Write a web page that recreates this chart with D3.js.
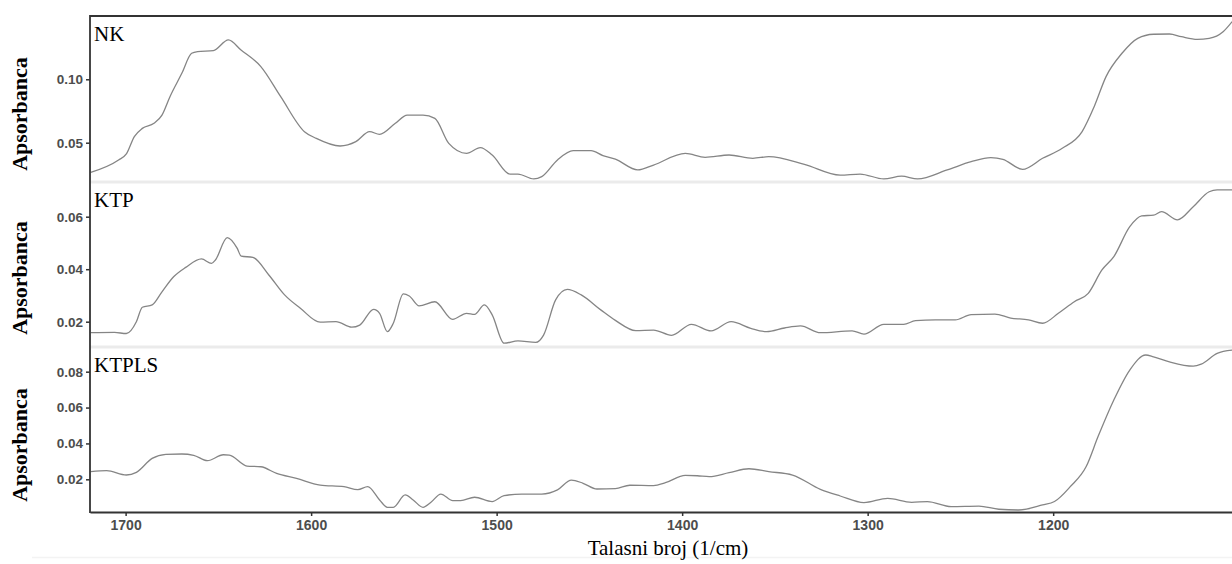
<!DOCTYPE html>
<html>
<head>
<meta charset="utf-8">
<script src="https://cdn.jsdelivr.net/npm/d3@7"></script>
<style>
  html, body { margin: 0; padding: 0; background: #fff; }
  svg { display: block; }
</style>
</head>
<body>
<svg id="chart" width="1232" height="564"></svg>
<script>
// ---- Data ----
const panelNames = ["NK", "KTP", "KTPLS"];
const xTicks = [1700, 1600, 1500, 1400, 1300, 1200];
const nkTicks = [0.05, 0.10];
const ktpTicks = [0.02, 0.04, 0.06];
const ktplsTicks = [0.02, 0.04, 0.06, 0.08];

const nkWave = [1718.8,1703.8,1699.6,1695.3,1691.0,1684.7,1680.4,1676.1,1669.7,1664.4,1661.2,1652.7,1644.6,1637.8,1627.1,1616.4,1603.6,1597.2,1584.4,1575.9,1568.5,1563.1,1554.6,1548.2,1539.7,1533.3,1525.8,1516.2,1508.8,1502.4,1492.8,1488.5,1480.0,1475.7,1467.2,1458.7,1449.1,1442.7,1436.0,1423.9,1415.4,1398.3,1387.6,1374.7,1361.9,1353.3,1334.1,1314.8,1304.1,1291.3,1281.7,1273.1,1257.1,1244.2,1233.6,1227.1,1216.5,1205.7,1195.1,1184.4,1177.9,1171.5,1162.9,1154.4,1145.9,1137.3,1130.9,1122.3,1115.9,1108.4,1103.5];
const nkAbs  = [0.0266,0.0364,0.0411,0.0548,0.0613,0.0653,0.0718,0.0863,0.1047,0.1205,0.1218,0.1226,0.1310,0.1231,0.1100,0.0863,0.0587,0.0534,0.0474,0.0508,0.0587,0.0566,0.0653,0.0718,0.0718,0.0692,0.0495,0.0416,0.0461,0.0403,0.0253,0.0253,0.0214,0.0232,0.0364,0.0437,0.0437,0.0398,0.0370,0.0285,0.0324,0.0416,0.0385,0.0403,0.0377,0.0390,0.0330,0.0245,0.0253,0.0214,0.0237,0.0214,0.0285,0.0350,0.0382,0.0369,0.0290,0.0377,0.0456,0.0587,0.0784,0.1021,0.1205,0.1323,0.1355,0.1357,0.1336,0.1315,0.1323,0.1375,0.1455];

const ktpWave = [1718.8,1706.0,1699.6,1694.2,1691.0,1685.7,1680.4,1674.0,1667.6,1659.1,1653.7,1651.6,1645.2,1639.9,1637.7,1631.4,1622.8,1614.3,1605.8,1595.1,1586.6,1578.1,1573.8,1566.3,1563.1,1558.9,1555.7,1550.3,1547.1,1541.8,1533.3,1523.7,1516.2,1511.9,1506.6,1502.4,1496.0,1488.5,1478.9,1474.7,1468.2,1461.9,1454.4,1443.7,1436.0,1425.0,1415.4,1405.7,1395.0,1384.4,1373.6,1363.0,1354.4,1344.8,1336.2,1325.5,1308.4,1302.0,1291.3,1280.6,1274.2,1263.5,1252.8,1244.2,1231.4,1222.9,1213.3,1205.7,1197.2,1188.6,1181.1,1173.7,1167.3,1158.7,1152.3,1145.9,1141.6,1133.0,1124.5,1115.9,1111.6,1103.5];
const ktpAbs  = [0.0158,0.0159,0.0155,0.0200,0.0255,0.0264,0.0314,0.0372,0.0407,0.0439,0.0422,0.0435,0.0520,0.0480,0.0450,0.0445,0.0378,0.0302,0.0251,0.0198,0.0200,0.0179,0.0187,0.0247,0.0232,0.0162,0.0194,0.0306,0.0298,0.0260,0.0276,0.0209,0.0232,0.0228,0.0264,0.0226,0.0118,0.0127,0.0121,0.0149,0.0283,0.0323,0.0302,0.0244,0.0205,0.0166,0.0168,0.0148,0.0190,0.0165,0.0200,0.0175,0.0162,0.0176,0.0184,0.0158,0.0165,0.0153,0.0190,0.0190,0.0204,0.0207,0.0207,0.0227,0.0229,0.0214,0.0207,0.0194,0.0232,0.0276,0.0308,0.0397,0.0448,0.0562,0.0603,0.0606,0.0619,0.0588,0.0638,0.0695,0.0702,0.0702];

const ktplsWave = [1718.8,1710.2,1699.6,1694.2,1685.7,1678.3,1669.7,1663.3,1655.9,1647.3,1644.1,1634.6,1627.1,1618.6,1607.9,1595.1,1582.3,1574.8,1569.5,1563.1,1558.9,1555.7,1549.3,1545.0,1539.7,1535.4,1530.1,1523.7,1519.4,1511.9,1502.4,1496.0,1486.4,1475.7,1467.2,1459.7,1453.4,1445.9,1436.0,1428.2,1415.4,1409.0,1398.3,1391.8,1385.4,1374.7,1364.0,1353.3,1340.5,1325.5,1314.8,1302.0,1289.2,1276.3,1267.8,1255.0,1240.0,1229.3,1218.6,1205.7,1199.3,1190.8,1182.2,1175.8,1167.3,1158.7,1150.1,1145.9,1137.3,1124.5,1120.2,1111.6,1103.5];
const ktplsAbs  = [0.0243,0.0248,0.0224,0.0239,0.0317,0.0339,0.0341,0.0334,0.0304,0.0337,0.0335,0.0274,0.0270,0.0233,0.0205,0.0168,0.0159,0.0142,0.0159,0.0085,0.0044,0.0044,0.0113,0.0085,0.0044,0.0072,0.0118,0.0081,0.0081,0.0100,0.0076,0.0109,0.0118,0.0118,0.0141,0.0196,0.0178,0.0146,0.0148,0.0167,0.0165,0.0181,0.0222,0.0220,0.0215,0.0237,0.0259,0.0243,0.0224,0.0144,0.0107,0.0070,0.0094,0.0072,0.0076,0.0048,0.0051,0.0033,0.0029,0.0057,0.0076,0.0159,0.0271,0.0438,0.0642,0.0809,0.0893,0.0883,0.0855,0.0831,0.0842,0.0902,0.0920];

// ---- Layout ----
const svg = d3.select("#chart");
const left = 90, right = 1232;
const panels = [
  { name: panelNames[0], top: 16,  bottom: 181, domain: [0.0198, 0.1499], ticks: nkTicks,    wave: nkWave,    abs: nkAbs,    fmt: ".2f", titleY: 114, labelY: 41 },
  { name: panelNames[1], top: 183, bottom: 346, domain: [0.01074, 0.07284], ticks: ktpTicks,  wave: ktpWave,   abs: ktpAbs,   fmt: ".2f", titleY: 278, labelY: 207 },
  { name: panelNames[2], top: 348, bottom: 512, domain: [0.00178, 0.0932], ticks: ktplsTicks, wave: ktplsWave, abs: ktplsAbs, fmt: ".2f", titleY: 445, labelY: 372 }
];

const x = d3.scaleLinear().domain([1719.2, 1103.6]).range([left, right]);

const serif = "'Liberation Serif', 'Times New Roman', serif";
const sans = "'Liberation Sans', Arial, sans-serif";

// faint frame line near the bottom of the figure
svg.append("line").attr("x1", 32).attr("x2", right).attr("y1", 557.5).attr("y2", 557.5)
  .attr("stroke", "#f3f3f3").attr("stroke-width", 1.5);

panels.forEach((p, i) => {
  const y = d3.scaleLinear().domain(p.domain).range([p.bottom, p.top]);

  svg.append("clipPath").attr("id", "clip" + i)
    .append("rect").attr("x", left).attr("y", p.top).attr("width", right - left).attr("height", p.bottom - p.top);

  const data = p.wave.map((w, k) => ({ w, a: p.abs[k] }));
  const line = d3.line().x(d => x(d.w)).y(d => y(d.a)).curve(d3.curveMonotoneX);
  svg.append("path").datum(data)
    .attr("clip-path", `url(#clip${i})`)
    .attr("d", line)
    .attr("fill", "none")
    .attr("stroke", "#858585")
    .attr("stroke-width", 1.3);

  const ax = svg.append("g").attr("transform", `translate(${left},0)`)
    .call(d3.axisLeft(y).tickValues(p.ticks).tickFormat(d3.format(p.fmt)).tickSize(4).tickPadding(3));
  ax.select(".domain").remove();
  ax.selectAll(".tick line").attr("stroke", "#333").attr("stroke-width", 1.5);
  ax.selectAll(".tick text")
    .attr("fill", "#4d4d4d").attr("font-family", sans).attr("font-weight", "bold").attr("font-size", 13.5);

  svg.append("text")
    .attr("transform", `translate(27,${p.titleY}) rotate(-90)`)
    .attr("text-anchor", "middle")
    .attr("font-family", serif).attr("font-weight", "bold").attr("font-size", 22)
    .attr("fill", "#000")
    .text("Apsorbanca");

  svg.append("text")
    .attr("x", 94).attr("y", p.labelY)
    .attr("font-family", serif).attr("font-size", 21)
    .attr("fill", "#000")
    .text(p.name);
});

// Panel separators
[182, 347].forEach(yy => {
  svg.append("line").attr("x1", left).attr("x2", right).attr("y1", yy).attr("y2", yy)
    .attr("stroke", "#ebebeb").attr("stroke-width", 3);
});

// Top border
svg.append("line").attr("x1", left).attr("x2", right).attr("y1", 16).attr("y2", 16)
  .attr("stroke", "#333").attr("stroke-width", 1.8);
// Left axis line
svg.append("line").attr("x1", left).attr("x2", left).attr("y1", 15).attr("y2", 513)
  .attr("stroke", "#333").attr("stroke-width", 1.8);

// X axis
const xa = svg.append("g").attr("transform", "translate(0,512)")
  .call(d3.axisBottom(x).tickValues(xTicks).tickFormat(d3.format("d")).tickSize(4).tickPadding(4).tickSizeOuter(0));
xa.select(".domain").attr("stroke", "#333").attr("stroke-width", 1.8);
xa.selectAll(".tick line").attr("stroke", "#333").attr("stroke-width", 1.5);
xa.selectAll(".tick text")
  .attr("fill", "#4d4d4d").attr("font-family", sans).attr("font-weight", "bold").attr("font-size", 14);

svg.append("text")
  .attr("x", 668).attr("y", 555)
  .attr("text-anchor", "middle")
  .attr("font-family", serif).attr("font-size", 21)
  .attr("fill", "#000")
  .text("Talasni broj (1/cm)");
</script>
</body>
</html>
